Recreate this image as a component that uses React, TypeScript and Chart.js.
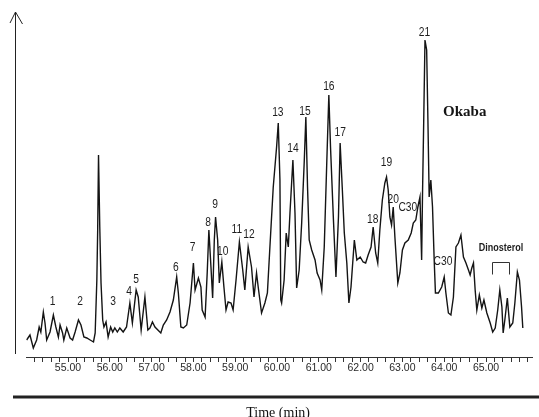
import React, { useEffect, useRef } from 'react';
import { Chart, registerables } from 'chart.js';

Chart.register(...registerables);

// Retention time (min) of each traced point of the chromatogram
const retentionTimes = [
  54.01, 54.09, 54.17, 54.25, 54.31, 54.35, 54.41, 54.45, 54.49, 54.57, 54.65, 54.71, 54.77, 54.81, 54.87,
  54.9, 54.97, 55.05, 55.11, 55.17, 55.25, 55.31, 55.38, 55.45, 55.53, 55.61, 55.65, 55.69, 55.71, 55.73,
  55.76, 55.79, 55.83, 55.86, 55.91, 55.96, 56.02, 56.07, 56.12, 56.18, 56.24, 56.32, 56.4,
  56.48, 56.54, 56.63, 56.68, 56.75, 56.84, 56.91, 56.96, 57.02, 57.08, 57.15, 57.22, 57.28, 57.36, 57.44,
  57.52, 57.6, 57.64, 57.7, 57.76, 57.84, 57.92, 57.96, 58.0, 58.04, 58.12, 58.18, 58.21, 58.28, 58.33,
  58.37, 58.42, 58.46, 58.5, 58.53, 58.58, 58.62, 58.68, 58.73, 58.78, 58.83, 58.9, 58.95,
  59.02, 59.1, 59.18, 59.23, 59.31, 59.39, 59.45, 59.51, 59.55, 59.63, 59.71, 59.77, 59.83, 59.91, 59.99,
  60.03, 60.07, 60.09, 60.11, 60.17, 60.22, 60.27, 60.31, 60.38, 60.43, 60.47, 60.53, 60.59, 60.65, 60.69,
  60.73, 60.77, 60.83, 60.91, 60.96, 61.03, 61.07, 61.13, 61.19, 61.24, 61.28, 61.35, 61.41, 61.47, 61.51,
  61.56, 61.61, 61.67, 61.72, 61.77, 61.85, 61.91, 61.99, 62.06, 62.12, 62.18, 62.25, 62.3, 62.36, 62.41,
  62.46, 62.52, 62.58, 62.62, 62.66, 62.7, 62.74, 62.78, 62.82, 62.89, 62.94, 63.0, 63.06, 63.14, 63.21,
  63.26, 63.32, 63.37, 63.42, 63.46, 63.48, 63.51, 63.54, 63.58, 63.61, 63.64, 63.68, 63.72, 63.76, 63.79,
  63.86, 63.94, 64.0, 64.04, 64.1, 64.16, 64.22, 64.28, 64.34, 64.4, 64.46, 64.52, 64.58, 64.62, 64.66,
  64.7, 64.74, 64.78, 64.84, 64.9, 64.95, 65.02, 65.1, 65.16, 65.22, 65.28, 65.33, 65.38, 65.41, 65.45,
  65.51, 65.57, 65.64, 65.69, 65.75, 65.8, 65.85, 65.88,
];

// Detector response (arbitrary units) at each retention time
const intensities = [
  17, 22, 9, 17, 30, 25, 45, 34, 17, 25, 42, 30, 20, 32, 24,
  17, 29, 19, 17, 25, 37, 32, 20, 19, 17, 15, 24, 77, 127, 202,
  130, 74, 37, 30, 35, 20, 30, 25, 29, 25, 29, 25, 30,
  54, 34, 67, 60, 27, 60, 27, 29, 35, 30, 27, 24, 32, 37, 45,
  57, 80, 64, 30, 29, 32, 54, 74, 94, 67, 79, 70, 47, 40, 84,
  127, 90, 59, 117, 140, 117, 74, 95, 70, 47, 55, 54, 47,
  77, 115, 87, 67, 110, 90, 60, 84, 70, 44, 54, 64, 110, 170, 210,
  234, 177, 57, 54, 77, 124, 110, 144, 197, 144, 69, 87, 134, 194, 240,
  170, 117, 107, 97, 84, 77, 67, 110, 194, 262, 210, 137, 80, 140, 214,
  170, 124, 94, 54, 70, 117, 97, 100, 95, 94, 102, 110, 130, 104, 94,
  127, 157, 174, 180, 167, 140, 132, 150, 120, 74, 84, 107, 114, 117, 124,
  134, 137, 150, 160, 97, 160, 237, 317, 307, 237, 160, 177, 150, 97, 64,
  64, 70, 80, 64, 44, 42, 60, 110, 114, 122, 100, 94, 87, 82, 89,
  94, 67, 47, 62, 49, 57, 44, 34, 25, 29, 47, 67, 50, 24, 37,
  59, 30, 34, 54, 85, 77, 50, 29,
];

// Axis
const axisMin = 54.0;
const axisMax = 66.1;
const labelledMinutes = [55, 56, 57, 58, 59, 60, 61, 62, 63, 64, 65];
const minorTickStep = 0.2;
const firstMinorTick = 54.2;
const lastMinorTick = 66.0;
const intensityMax = 345;
const axisTitle = 'Time (min)';

// Peak annotations (name, time of label centre, level of label centre)
const peakNames = ['1', '2', '3', '4', '5', '6', '7', '8', '9', '10', '11', '12', '13', '14', '15', '16', '17', '18', '19', '20', 'C30', '21', 'C30'];
const peakLabelTimes = [54.63, 55.29, 56.08, 56.46, 56.63, 57.58, 57.98, 58.35, 58.52, 58.7, 59.04, 59.33, 60.02, 60.38, 60.67, 61.24, 61.51, 62.29, 62.62, 62.78, 63.13, 63.53, 63.97];
const peakLabelLevels = [55, 55, 55, 65, 77, 89, 109, 134, 152, 105, 127, 122, 244, 208, 245, 270, 224, 137, 194, 157, 149, 324, 95];

const sampleName = 'Okaba';
const sampleTime = 64.49;
const sampleLevel = 245;

const dinosterolName = 'Dinosterol';
const dinosterolTime = 65.36;
const dinosterolLevel = 109;
const dinosterolRange = [65.14, 65.55];
const dinosterolBracketLevels = [95, 83];

function narrowFontAvailable(): boolean {
  const c = document.createElement('canvas');
  const ctx = c.getContext('2d');
  if (!ctx) return false;
  const s = 'Dinosterol 0123456789';
  ctx.font = '40px monospace';
  const a = ctx.measureText(s).width;
  ctx.font = '40px "Liberation Sans Narrow", monospace';
  const b = ctx.measureText(s).width;
  return Math.abs(a - b) > 0.5;
}

export default function App() {
  const ref = useRef<HTMLCanvasElement>(null);

  useEffect(() => {
    const canvas = ref.current;
    if (!canvas) return;
    const hasNarrow = narrowFontAvailable();
    const sansFamily = hasNarrow ? '"Liberation Sans Narrow"' : '"Liberation Sans"';
    const squeeze = hasNarrow ? 1 : 0.82;

    const drawText = (
      ctx: CanvasRenderingContext2D,
      text: string,
      x: number,
      y: number,
      font: string,
      sx: number,
      color: string
    ) => {
      ctx.save();
      ctx.translate(x, y);
      ctx.scale(sx, 1);
      ctx.font = font;
      ctx.fillStyle = color;
      ctx.textAlign = 'center';
      ctx.textBaseline = 'middle';
      ctx.fillText(text, 0, 0);
      ctx.restore();
    };

    const annotate = {
      id: 'annotate',
      afterDraw(chart: any) {
        const { ctx, chartArea, scales } = chart;
        const xs = scales.x;
        const ys = scales.y;
        ctx.save();
        // vertical axis with arrow
        ctx.strokeStyle = '#222';
        ctx.lineWidth = 1;
        ctx.beginPath();
        ctx.moveTo(15.5, chartArea.top);
        ctx.lineTo(15.5, chartArea.bottom - 3);
        ctx.stroke();
        ctx.beginPath();
        ctx.moveTo(10, chartArea.top + 11);
        ctx.lineTo(15.5, chartArea.top);
        ctx.lineTo(22.5, chartArea.top + 12);
        ctx.stroke();
        // thick rule above the title
        ctx.fillStyle = '#222';
        ctx.fillRect(13, 395.5, 526, 3);
        // axis title
        ctx.font = '14px "Liberation Serif", "Times New Roman", serif';
        ctx.fillStyle = '#111';
        ctx.textAlign = 'center';
        ctx.textBaseline = 'alphabetic';
        ctx.fillText(axisTitle, (chartArea.left + chartArea.right) / 2 - 1, 416.5);

        // peak labels
        peakNames.forEach((name, i) => {
          const px = xs.getPixelForValue(peakLabelTimes[i]);
          const py = ys.getPixelForValue(peakLabelLevels[i]);
          drawText(ctx, name, px, py, `12.5px ${sansFamily}, sans-serif`, squeeze, '#1e1e1e');
        });

        // sample name
        ctx.font = 'bold 15px "Liberation Serif", "Times New Roman", serif';
        ctx.fillStyle = '#141414';
        ctx.textAlign = 'center';
        ctx.textBaseline = 'middle';
        ctx.fillText(sampleName, xs.getPixelForValue(sampleTime), ys.getPixelForValue(sampleLevel));

        // dinosterol bracket
        drawText(
          ctx,
          dinosterolName,
          xs.getPixelForValue(dinosterolTime),
          ys.getPixelForValue(dinosterolLevel),
          `bold 11px ${sansFamily}, sans-serif`,
          squeeze,
          '#1e1e1e'
        );
        const bx1 = Math.round(xs.getPixelForValue(dinosterolRange[0])) + 0.5;
        const bx2 = Math.round(xs.getPixelForValue(dinosterolRange[1])) + 0.5;
        const by1 = Math.round(ys.getPixelForValue(dinosterolBracketLevels[0])) + 0.5;
        const by2 = Math.round(ys.getPixelForValue(dinosterolBracketLevels[1])) + 0.5;
        ctx.strokeStyle = '#333';
        ctx.lineWidth = 1;
        ctx.beginPath();
        ctx.moveTo(bx1, by2);
        ctx.lineTo(bx1, by1);
        ctx.lineTo(bx2, by1);
        ctx.lineTo(bx2, by2);
        ctx.stroke();
        ctx.restore();
      },
    };

    const minorTicks: number[] = [];
    for (let v = firstMinorTick; v <= lastMinorTick + 1e-9; v += minorTickStep) {
      minorTicks.push(Math.round(v * 10) / 10);
    }

    const chart = new Chart(canvas, {
      type: 'line',
      data: {
        datasets: [
          {
            data: retentionTimes.map((t, i) => ({ x: t, y: intensities[i] })),
            borderColor: '#141414',
            borderWidth: 1.4,
            pointRadius: 0,
            tension: 0,
            fill: false,
          },
        ],
      },
      options: {
        animation: false,
        responsive: false,
        devicePixelRatio: 1,
        layout: { padding: { left: 26.2, right: 7, top: 12, bottom: 0 } },
        plugins: { legend: { display: false }, tooltip: { enabled: false } },
        scales: {
          x: {
            type: 'linear',
            min: axisMin,
            max: axisMax,
            afterBuildTicks: (s: any) => {
              s.ticks = minorTicks.map((v) => ({ value: v }));
            },
            afterFit: (s: any) => {
              s.height = 60;
            },
            grid: {
              drawOnChartArea: false,
              drawTicks: true,
              tickLength: 5,
              color: '#333',
              tickColor: '#333',
            },
            border: { display: true, color: '#333', width: 1 },
            ticks: {
              autoSkip: false,
              maxRotation: 0,
              minRotation: 0,
              padding: 0,
              color: '#2a2a2a',
              font: { family: hasNarrow ? 'Liberation Sans Narrow' : 'Liberation Sans', size: hasNarrow ? 12 : 10.5 },
              callback: (v: any) => {
                const n = Number(v);
                const m = labelledMinutes.find((k) => Math.abs(k - n) < 1e-6);
                return m !== undefined ? m.toFixed(2) : '';
              },
            },
          },
          y: { display: false, min: 0, max: intensityMax },
        },
      },
      plugins: [annotate],
    });
    return () => chart.destroy();
  }, []);

  return (
    <div style={{ position: 'absolute', left: 0, top: 0, width: 539, height: 417, background: '#fff' }}>
      <canvas ref={ref} width={539} height={417} style={{ display: 'block' }} />
    </div>
  );
}
